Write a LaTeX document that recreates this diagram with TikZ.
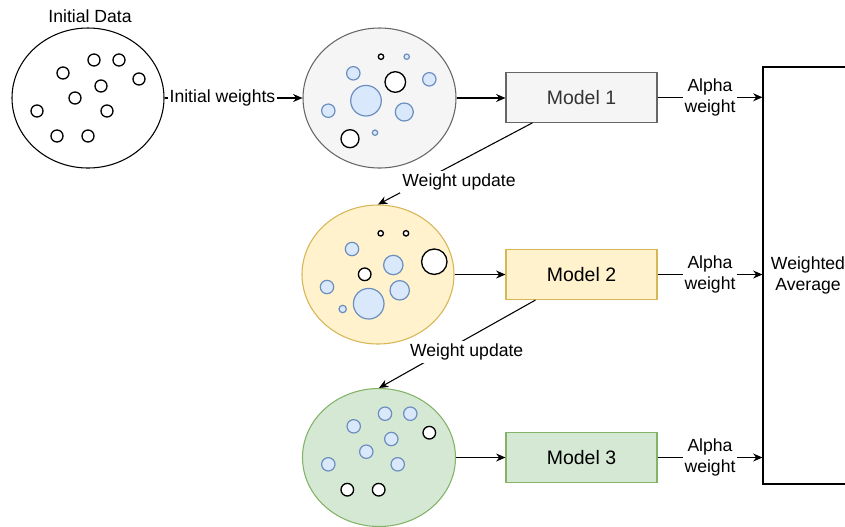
\documentclass[tikz,border=0pt]{standalone}
\usepackage{fontspec}
\setmainfont{Liberation Sans}
\usetikzlibrary{arrows.meta,shapes.geometric,calc}

\definecolor{greyfill}{HTML}{F5F5F5}
\definecolor{greyline}{HTML}{666666}
\definecolor{greytext}{HTML}{333333}
\definecolor{yelfill}{HTML}{FFF2CC}
\definecolor{yelline}{HTML}{D6B656}
\definecolor{grnfill}{HTML}{D5E8D4}
\definecolor{grnline}{HTML}{82B366}
\definecolor{dotfill}{HTML}{DAE8FC}
\definecolor{dotline}{HTML}{6C8EBF}

\begin{document}
\begin{tikzpicture}[
  x=0.75pt, y=-0.75pt,
  blob/.style={ellipse, draw, line width=0.8pt, inner sep=0pt},
  wdot/.style={draw=black, fill=white, line width=1pt},
  bdot/.style={draw=dotline, fill=dotfill, line width=0.9pt},
  modelbox/.style={rectangle, draw, line width=0.8pt, minimum width=113.25pt,
    minimum height=37.5pt, inner sep=0pt, font=\fontsize{14.6}{17}\selectfont},
  lbl/.style={fill=white, inner sep=1.5pt, align=center,
    font=\fontsize{13.2}{15.5}\selectfont},
  flow/.style={-{Stealth[length=7pt,width=6pt]}, line width=0.8pt},
]
\useasboundingbox (0,0) rectangle (845,526);
\clip (0,0) rectangle (845,526);

% data sets
\node[blob, minimum width=114pt, minimum height=105pt] (init) at (88,98) {};
\node[font=\fontsize{13.2}{15.5}\selectfont] (initlbl) at (90,16) {Initial Data};
\node[blob, draw=greyline, fill=greyfill, minimum width=114.75pt, minimum height=105pt] (grey) at (379.5,98) {};
\node[blob, draw=yelline, fill=yelfill, minimum width=114pt, minimum height=104.25pt] (yel) at (378,274.5) {};
\node[blob, draw=grnline, fill=grnfill, minimum width=114.75pt, minimum height=103.5pt] (grn) at (379,457.5) {};

% samples of the initial data
\foreach \x/\y in {94/60, 119/60, 63/73, 139/79, 101/86, 75/98, 37/111, 107/111, 57/136, 88/136}
  \draw[wdot] (\x,\y) circle[radius=6*0.75pt];

% samples after the first weighting
\foreach \x/\y/\r in {381/56.7/2.7, 395.3/82/10.3, 350/138.7/9}
  \draw[wdot] (\x,\y) circle[radius=\r*0.75pt];
\foreach \x/\y/\r in {406.7/56.7/2.7, 353.3/73.3/6.7, 429.3/79.3/6.7, 366/100.7/15.3,
    328.3/110.7/6.7, 404.3/112/9, 375/132.7/2.7}
  \draw[bdot] (\x,\y) circle[radius=\r*0.75pt];

% samples after the second weighting
\foreach \x/\y/\r in {380.7/233.3/2.7, 406/233.3/2.7, 434.3/261.7/12.7, 364.7/274.3/6.3}
  \draw[wdot] (\x,\y) circle[radius=\r*0.75pt];
\foreach \x/\y/\r in {352/249/6.7, 393.3/265/9.7, 327/287/6.7, 399.7/290.3/9.7,
    368.7/303.7/15.3, 342.7/309/3.7}
  \draw[bdot] (\x,\y) circle[radius=\r*0.75pt];

% samples after the third weighting
\foreach \x/\y in {429.3/432.7, 347.3/489.7, 378.7/489.7}
  \draw[wdot] (\x,\y) circle[radius=6.3*0.75pt];
\foreach \x/\y in {385/413.7, 410.3/413.7, 353.7/426.3, 391.3/439, 366.3/451.7,
    328.3/464.3, 397.7/464.3}
  \draw[bdot] (\x,\y) circle[radius=6.7*0.75pt];

% models
\node[modelbox, draw=greyline, fill=greyfill, text=greytext] (m1) at (581.5,97.3) {Model 1};
\node[modelbox, draw=yelline, fill=yelfill] (m2) at (581.5,274.5) {Model 2};
\node[modelbox, draw=grnline, fill=grnfill] (m3) at (581.5,457.5) {Model 3};

% combination
\node[rectangle, draw, line width=0.8pt, minimum width=67.5pt, minimum height=312.75pt,
  inner sep=0pt, align=center, font=\fontsize{13.2}{15.5}\selectfont] (wa) at (808,275.5)
  {Weighted\\Average};

% connectors
\draw[flow] (init.east) -- node[lbl, pos=0.42] {Initial weights} (grey.west);
\draw[flow] (grey.east) -- (grey.east -| m1.west);
\draw[flow] (yel.east) -- (yel.east -| m2.west);
\draw[flow] (grn.east) -- (grn.east -| m3.west);

\draw[flow] ($(m1.south west)+(27,0)$) -- (yel.north);
\node[lbl, inner sep=2pt] (wu1) at (459,182) {Weight update};
\draw[flow] ($(m2.south west)+(30,0)$) -- (grn.north);
\node[lbl, inner sep=2pt] (wu2) at (466.7,352) {Weight update};

\draw[flow] (m1.east) -- node[lbl] {Alpha\\weight} (m1.east -| wa.west);
\draw[flow] (m2.east) -- node[lbl] {Alpha\\weight} (m2.east -| wa.west);
\draw[flow] (m3.east) -- node[lbl] {Alpha\\weight} (m3.east -| wa.west);
\end{tikzpicture}
\end{document}
